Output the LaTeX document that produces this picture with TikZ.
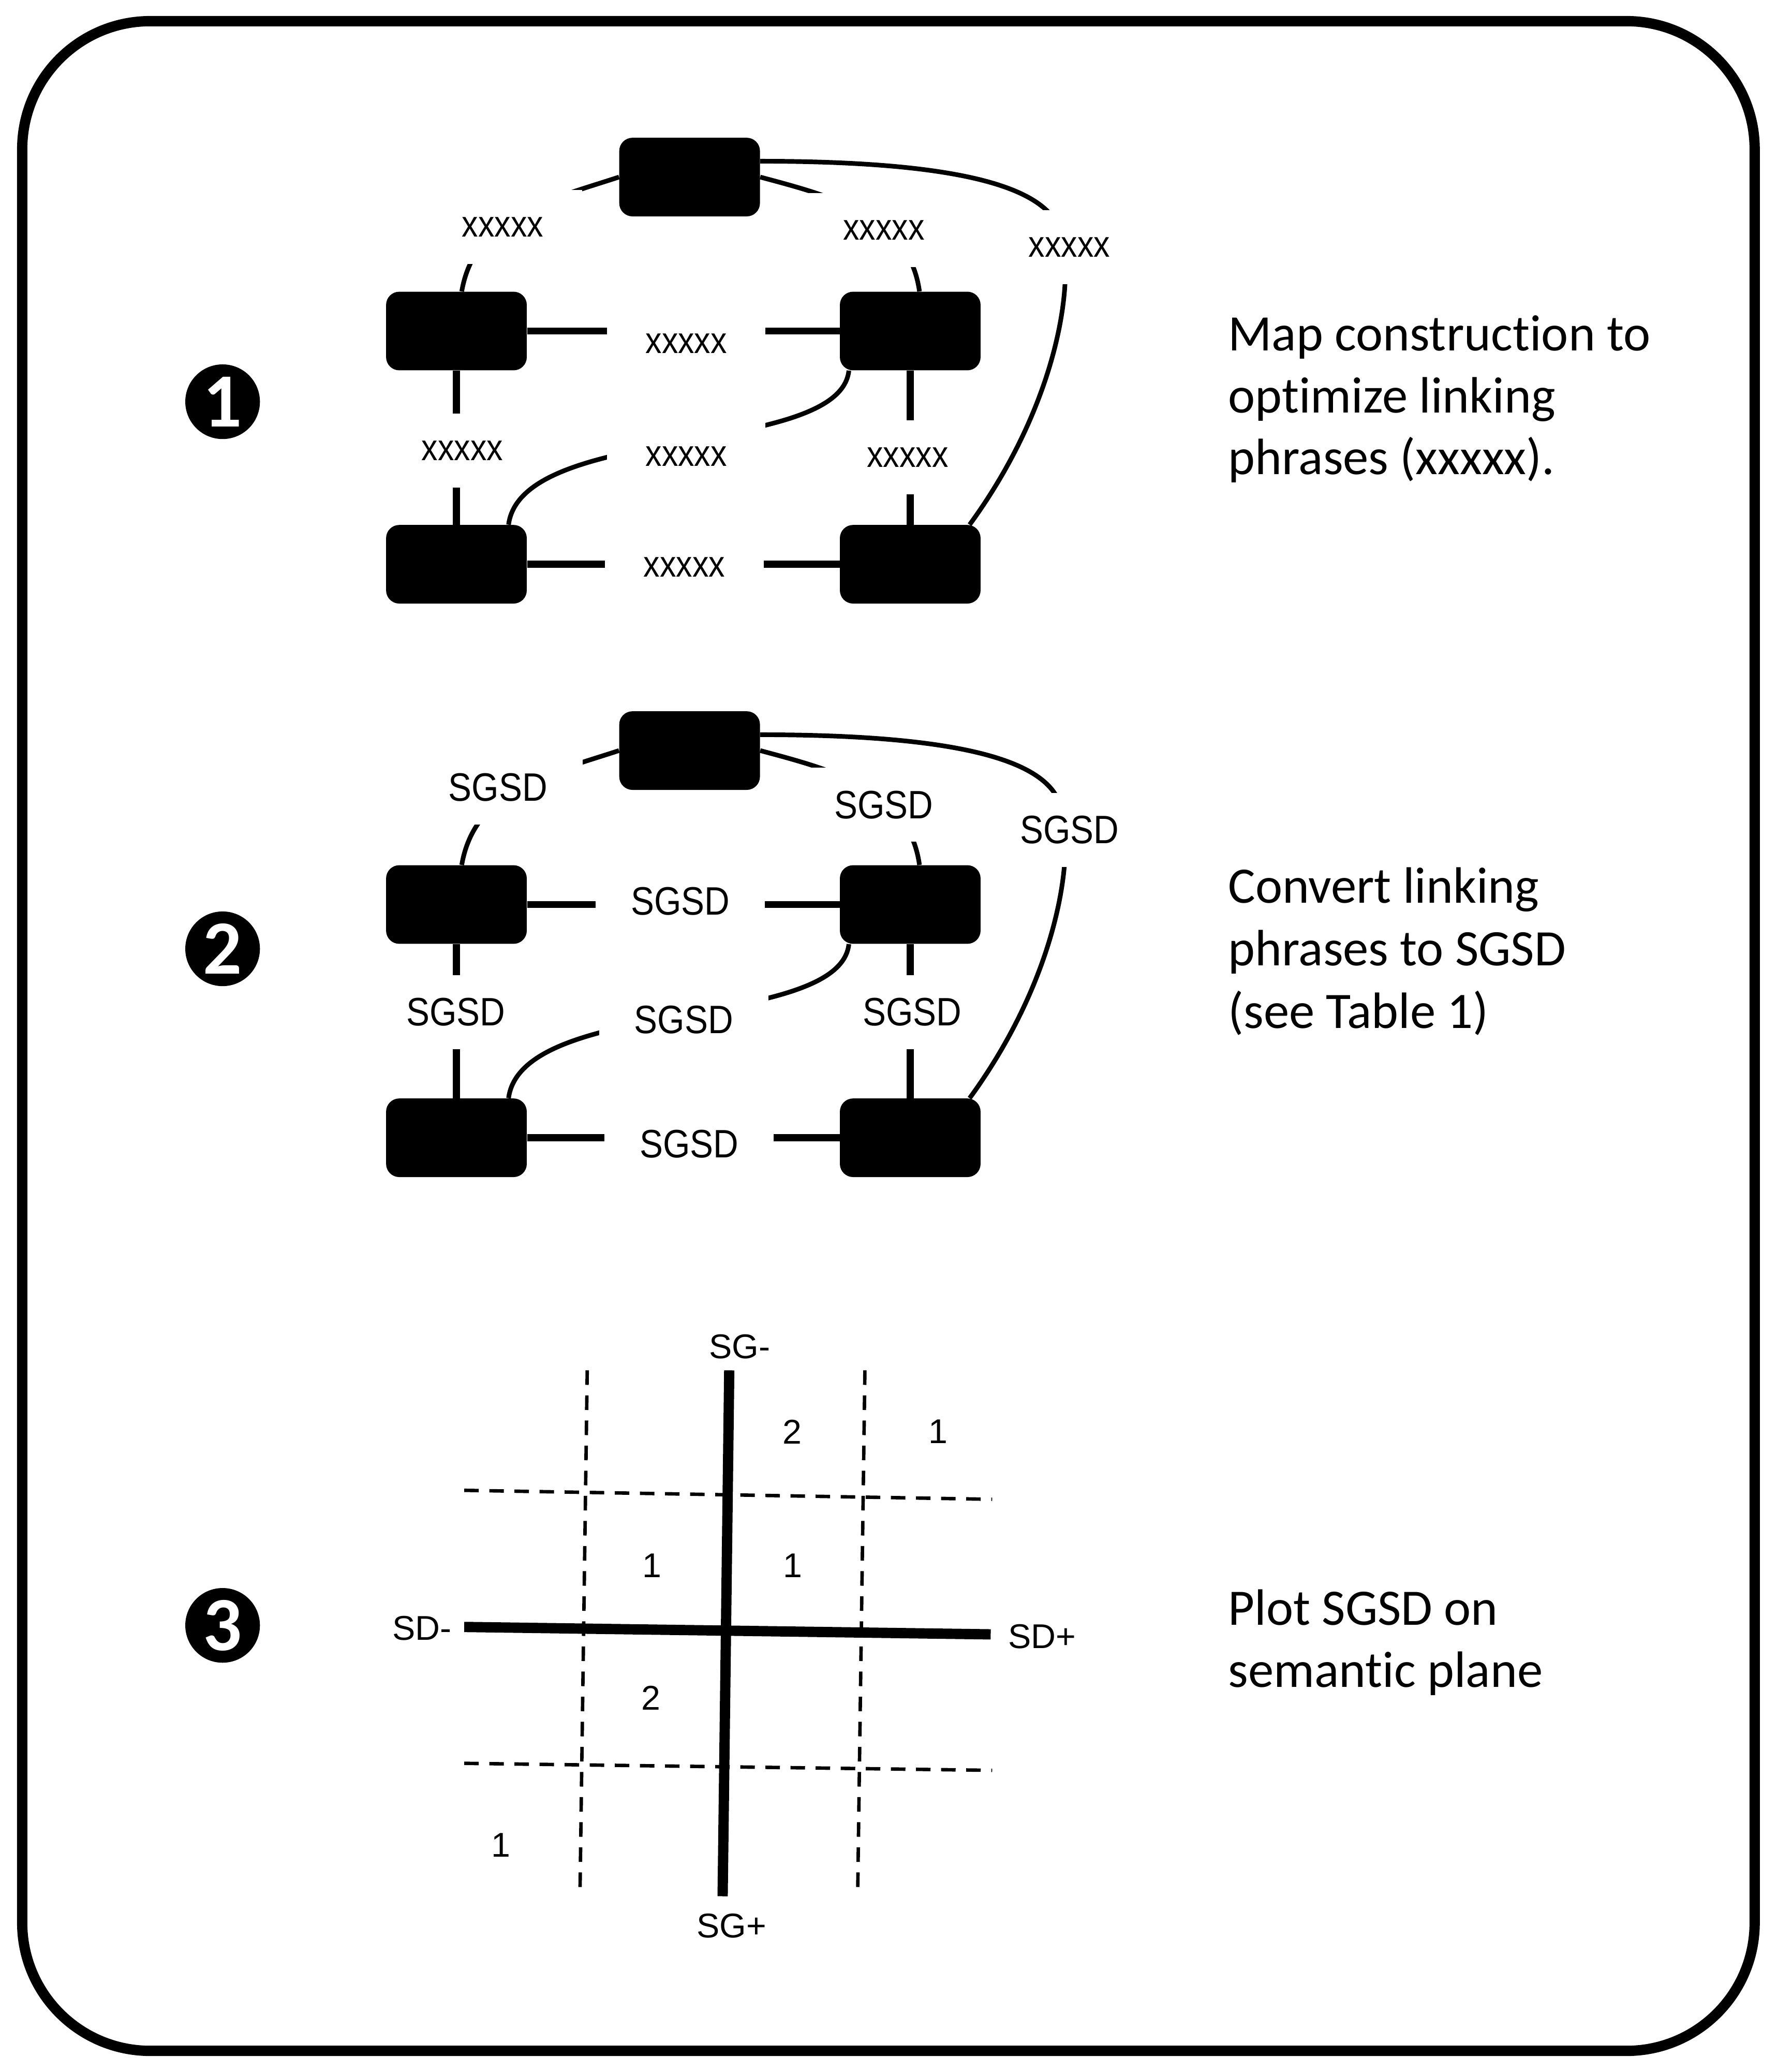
\documentclass[tikz,border=0pt]{standalone}
\usepackage{fontspec}
\setmainfont{Carlito}[Ligatures=NoCommon]
\newfontfamily\lblfont[FakeStretch=0.88]{Liberation Sans}
\newfontfamily\planefont{Liberation Sans}
\usetikzlibrary{positioning}

\begin{document}
\begin{tikzpicture}[x=1pt, y=1pt,
  cbox/.style={rectangle, rounded corners=10pt, fill=black, minimum width=106.5pt, minimum height=59.5pt, inner sep=0pt},
  link/.style={line width=5.2pt},
  curvelink/.style={line width=3.5pt},
  lbl/.style={fill=white, inner sep=0pt, minimum width=120pt, minimum height=56pt, font=\lblfont\fontsize{28}{28}\selectfont},
  sg/.style={lbl, minimum width=128pt, font=\lblfont\fontsize{30}{30}\selectfont},
  vert/.style={minimum width=0pt, inner xsep=4pt},
  num/.style={circle, fill=black, text=white, minimum size=56.5pt, inner sep=0pt, font=\bfseries\fontsize{58}{58}\selectfont},
  steptext/.style={anchor=base west, inner sep=0pt, font=\fontsize{38.7}{46.8}\selectfont},
  thickaxis/.style={line width=7.8pt},
  dashline/.style={line width=2.6pt, dash pattern=on 11pt off 8pt},
  ptext/.style={inner sep=0pt, font=\planefont\fontsize{26}{26}\selectfont}]
  \useasboundingbox (0,0) rectangle (1345,-1568);
  \draw[line width=7.8pt, rounded corners=97pt] (16.8,-16) rectangle (1328.2,-1552);

  % step numbers
  \node[num] (n1) at (168.5,-304) {1};
  \node[num] (n2) at (168.5,-718) {2};
  \node[num] (n3) at (168.5,-1230) {3};

  % the two concept maps
  \foreach \s/\dy in {a/0,b/-434} {
    \begin{scope}[yshift=\dy pt]
      \node[cbox] (tb\s) at (522,-134) {};
      \node[cbox] (lm\s) at (345.5,-250.5) {};
      \node[cbox] (rm\s) at (689,-250.5) {};
      \node[cbox] (lb\s) at (345.5,-427) {};
      \node[cbox] (rb\s) at (689,-427) {};
      \draw[link] (lm\s) -- (rm\s);
      \draw[link] (lb\s) -- (rb\s);
      \draw[link] (lm\s) -- (lb\s);
      \draw[link] (rm\s) -- (rb\s);
      \draw[curvelink] (tb\s.west) .. controls +(-55,-18) and +(10,57) .. ([xshift=4pt]lm\s.north);
      \draw[curvelink] (tb\s.east) .. controls +(56,-15) and +(-8,57) .. ([xshift=7pt]rm\s.north);
      \draw[curvelink] ([xshift=7pt]rm\s.south west) .. controls +(-7,-66) and +(10,77) .. ([xshift=-14pt]lb\s.north east);
      \draw[curvelink] ([yshift=12pt]tb\s.east) .. controls +(145,0) and +(-15,30) .. ++(225,-48)
        .. controls +(15,-30) and +(71.5,98) .. ([xshift=-8.5pt]rb\s.north east);
    \end{scope}
  }

  % linking phrases
  \node[lbl] (xa1) at (380.5,-171.7) {xxxxx};
  \node[lbl] (xa2) at (669,-174) {xxxxx};
  \node[lbl] (xa3) at (809.5,-187) {xxxxx};
  \node[lbl] (xa4) at (519.5,-260) {xxxxx};
  \node[lbl, vert] (xa5) at (350,-341) {xxxxx};
  \node[lbl] (xa6) at (519.5,-345.5) {xxxxx};
  \node[lbl, vert] (xa7) at (687,-346) {xxxxx};
  \node[lbl] (xa8) at (518,-429) {xxxxx};

  \node[sg] (sb1) at (377,-596) {SGSD};
  \node[sg] (sb2) at (669,-609) {SGSD};
  \node[sg] (sb3) at (809.6,-628) {SGSD};
  \node[sg] (sb4) at (515,-682) {SGSD};
  \node[sg, vert] (sb5) at (345,-766) {SGSD};
  \node[sg] (sb6) at (517.5,-771.6) {SGSD};
  \node[sg, vert] (sb7) at (690.6,-766) {SGSD};
  \node[sg] (sb8) at (521.6,-865.7) {SGSD};

  % semantic plane
  \draw[dashline] (444.5,-1037) -- (439,-1435);
  \draw[dashline] (654.7,-1037) -- (649.2,-1435);
  \draw[dashline] (351.4,-1127.8) -- (751,-1134.6);
  \draw[dashline] (351.4,-1334.4) -- (751,-1339.7);
  \draw[thickaxis] (552,-1037) -- (547,-1435);
  \draw[thickaxis] (351.4,-1231.2) -- (749.9,-1236.8);
  \node[ptext] (sgm) at (560,-1019) {SG-};
  \node[ptext] (sgp) at (553.8,-1457.3) {SG+};
  \node[ptext] (sdm) at (319.5,-1232.2) {SD-};
  \node[ptext] (sdp) at (788.7,-1238.3) {SD+};
  \foreach \n/\x/\y [count=\i] in {2/599.6/1083.4, 1/710/1083.4, 1/493.4/1184.8, 1/600.2/1184.8, 2/492.7/1284.8, 1/379.3/1396.4}
    \node[ptext] (cnt\i) at (\x,-\y) {\n};

  % step texts
  \foreach \t [count=\i] in {Map construction to, optimize linking, {phrases (xxxxx).}}
    \node[steptext] (ta\i) at (929.5,{-265.4-46.8*(\i-1)}) {\t};
  \foreach \t [count=\i] in {Convert linking, phrases to SGSD, {(see Table 1)}}
    \node[steptext] (tb\i) at (929.5,{-683.5-47.4*(\i-1)}) {\t};
  \foreach \t [count=\i] in {Plot SGSD on, semantic plane}
    \node[steptext] (tc\i) at (929.5,{-1229.9-46.9*(\i-1)}) {\t};
\end{tikzpicture}
\end{document}
